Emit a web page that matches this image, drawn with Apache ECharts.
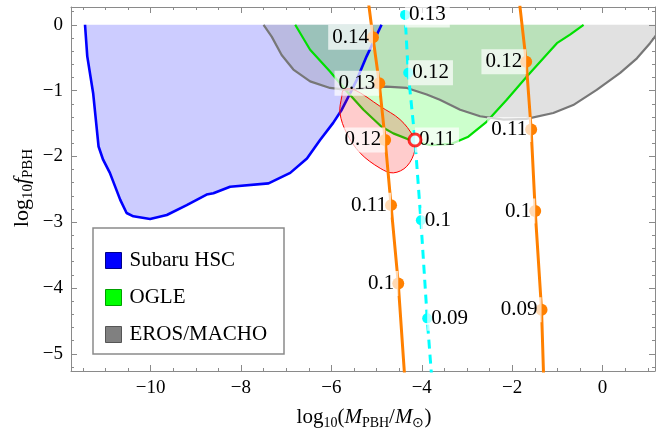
<!DOCTYPE html>
<html><head><meta charset="utf-8">
<script src="https://cdn.jsdelivr.net/npm/echarts@6/dist/echarts.min.js"></script>
<style>html,body{margin:0;padding:0;background:#fff}#c{width:657px;height:432px}</style>
</head><body><div id="c"></div>
<script>
// ---------- data ----------
const xRange = [-11.76, 1.16];
const yRange = [-5.26, 0.27];
const xMajorTicks = [-10, -8, -6, -4, -2, 0];
const yMajorTicks = [-5, -4, -3, -2, -1, 0];
const legendNames = ['Subaru HSC', 'OGLE', 'EROS/MACHO'];

// region boundaries [log10 M, log10 f]
const subaruBoundary = [[-11.45,0],[-11.40,-0.48],[-11.27,-1.04],[-11.15,-1.85],[-11.05,-2.05],[-10.90,-2.25],[-10.67,-2.66],[-10.53,-2.86],[-10.38,-2.91],[-10.01,-2.95],[-9.64,-2.89],[-9.20,-2.74],[-8.76,-2.58],[-8.61,-2.56],[-8.24,-2.46],[-7.39,-2.41],[-6.91,-2.25],[-6.54,-2.03],[-6.25,-1.75],[-5.96,-1.49],[-5.77,-1.29],[-5.62,-1.09],[-5.44,-0.84],[-5.22,-0.48],[-4.89,0]];
const ogleBoundary = [[-6.80,0],[-6.47,-0.38],[-6.03,-0.71],[-5.66,-1.01],[-5.29,-1.29],[-4.89,-1.55],[-4.63,-1.65],[-4.19,-1.77],[-3.80,-1.83],[-3.35,-1.81],[-2.97,-1.70],[-2.56,-1.47],[-2.12,-1.14],[-1.68,-0.79],[-1.31,-0.51],[-1.01,-0.28],[-0.72,-0.15],[-0.42,0]];
const erosBoundary = [[-7.50,0],[-7.32,-0.18],[-7.10,-0.46],[-6.84,-0.68],[-6.47,-0.86],[-6.03,-0.96],[-5.66,-0.99],[-5.22,-0.96],[-4.78,-0.94],[-4.33,-0.96],[-3.89,-1.06],[-3.60,-1.14],[-3.15,-1.29],[-2.71,-1.39],[-2.19,-1.44],[-1.68,-1.43],[-1.09,-1.34],[-0.65,-1.22],[-0.13,-0.99],[0.39,-0.73],[0.76,-0.51],[1.05,-0.28],[1.16,-0.18],[1.35,0]];
const bestFitRegion = [[-5.73,-0.99],[-5.51,-0.98],[-4.92,-1.24],[-4.48,-1.44],[-4.19,-1.70],[-4.15,-1.90],[-4.33,-2.15],[-4.63,-2.25],[-4.92,-2.18],[-5.36,-1.95],[-5.66,-1.65],[-5.81,-1.34],[-5.77,-1.09]];
const bestFitPoint = [-4.15, -1.75];

// parametric curves [log10 M, log10 f, parameter label]
const orangeLeft  = [[-5.19,0.40,0.15],[-5.08,-0.19,0.14],[-4.94,-0.89,0.13],[-4.81,-1.75,0.12],[-4.68,-2.74,0.11],[-4.52,-3.93,0.1],[-4.38,-5.33,0.09]];
const orangeRight = [[-1.83,0.29,0.13],[-1.69,-0.56,0.12],[-1.58,-1.59,0.11],[-1.49,-2.83,0.1],[-1.35,-4.33,0.09],[-1.27,-6.10,0.08]];
const cyanLine    = [[-4.41,0.90,0.14],[-4.37,0.15,0.13],[-4.30,-0.73,0.12],[-4.15,-1.75,0.11],[-4.02,-2.97,0.1],[-3.88,-4.46,0.09],[-3.68,-6.26,0.08]];

// ---------- styling ----------
const SERIF = 'Liberation Serif, Times New Roman, serif';
const FRAME = '#8a8a8a';
const xMinorTicks = [], yMinorTicks = [];
for (let v = -11.5; v <= 1.0; v += 0.5) if (Math.abs(v % 2) > 1e-6) xMinorTicks.push(v);
for (let i = -26; i <= 1; i++) { const v = i / 5; if (i % 5 !== 0) yMinorTicks.push(v); }
const fmt = v => v < 0 ? '\u2212' + (-v) : String(v);

function xAxisDef(pos, ticks, len, labels, line) {
  return { type:'value', min:xRange[0], max:xRange[1], position:pos,
    axisLine:{show:line, onZero:false, lineStyle:{color:FRAME, width:1}},
    axisTick:{show:true, inside:true, length:len, customValues:ticks, lineStyle:{color:FRAME}},
    axisLabel:{show:labels, customValues:ticks, formatter:fmt, margin:8, fontFamily:SERIF, fontSize:19, color:'#000'},
    splitLine:{show:false} };
}
function yAxisDef(pos, ticks, len, labels, line) {
  return { type:'value', min:yRange[0], max:yRange[1], position:pos,
    axisLine:{show:line, onZero:false, lineStyle:{color:FRAME, width:1}},
    axisTick:{show:true, inside:true, length:len, customValues:ticks, lineStyle:{color:FRAME}},
    axisLabel:{show:labels, customValues:ticks, formatter:fmt, margin:8, fontFamily:SERIF, fontSize:19, color:'#000'},
    splitLine:{show:false} };
}

function regionFill(name, pts, color) {
  return { type:'custom', name, clip:true, z:1, silent:true,
    data:[[pts[0][0], pts[0][1]]],
    renderItem(params, api) {
      const poly = pts.map(p => api.coord(p));
      poly.push(api.coord([pts[pts.length-1][0], 0]));
      poly.push(api.coord([pts[0][0], 0]));
      return { type:'polygon', shape:{points:poly}, style:{fill:color, stroke:null} };
    } };
}
const boundaries = [
  [subaruBoundary, '#0000ff', 2.6],
  [ogleBoundary, '#00e000', 2.2],
  [erosBoundary, '#777777', 2.2]
];

function curveSeries(pts, color, dashed, size, side) {
  return { type:'line', z: dashed ? 6 : 5, clip:true, smooth:false,
    data: pts.map(p => ({ value:[p[0], p[1]], p:p[2] })),
    symbol:'circle', symbolSize:size, showSymbol:true,
    itemStyle:{color}, lineStyle:{color, width:3, type: dashed ? [9,6] : 'solid'},
    label:{ show:true, position:side, distance:-size/2,
      formatter: q => String(q.data.p),
      fontFamily:SERIF, fontSize:21, color:'#000', lineHeight:23,
      backgroundColor:'rgba(255,255,255,0.7)', padding:[1,4,1,4] },
    emphasis:{disabled:true}, silent:true };
}

const chart = echarts.init(document.getElementById('c'), null, {renderer:'canvas'});
const sub = {fontFamily:SERIF, fontSize:14, lineHeight:10, verticalAlign:'bottom', fill:'#000'};
const nor = {fontFamily:SERIF, fontSize:21, lineHeight:26, fill:'#000'};
const ita = {fontFamily:SERIF, fontSize:21, lineHeight:26, fontStyle:'italic', fill:'#000'};
const subY = {fontFamily:SERIF, fontSize:15, lineHeight:10, verticalAlign:'bottom', fill:'#000'};
const norY = {fontFamily:SERIF, fontSize:22, lineHeight:27, fill:'#000'};
const itaY = {fontFamily:SERIF, fontSize:22, lineHeight:27, fontStyle:'italic', fill:'#000'};
chart.setOption({
  animation:false,
  backgroundColor:'#fff',
  grid:{left:71, right:2, top:7, bottom:61, containLabel:false},
  xAxis:[
    xAxisDef('bottom', xMajorTicks, 6, true, true),
    xAxisDef('bottom', xMinorTicks, 3, false, false),
    xAxisDef('top', xMajorTicks, 6, false, true),
    xAxisDef('top', xMinorTicks, 3, false, false)
  ],
  yAxis:[
    yAxisDef('left', yMajorTicks, 6, true, true),
    yAxisDef('left', yMinorTicks, 3, false, false),
    yAxisDef('right', yMajorTicks, 6, false, true),
    yAxisDef('right', yMinorTicks, 3, false, false)
  ],
  legend:{ left:105, top:250, orient:'vertical', padding:0, itemWidth:16, itemHeight:16, itemGap:16,
    selectedMode:false, z:30,
    textStyle:{fontFamily:SERIF, fontSize:21, color:'#000', padding:[5,0,0,3]},
    data:[
      {name:legendNames[0], icon:'rect', itemStyle:{color:'#0000ff', borderColor:'#00008a', borderWidth:1}},
      {name:legendNames[1], icon:'rect', itemStyle:{color:'#00ff00', borderColor:'#00a000', borderWidth:1}},
      {name:legendNames[2], icon:'rect', itemStyle:{color:'#808080', borderColor:'#555555', borderWidth:1}}
    ]},
  graphic:[
    {type:'rect', z:25, shape:{x:93, y:228, width:191, height:126}, style:{fill:'#fff', stroke:'#8a8a8a', lineWidth:1.5}},
    {type:'text', z:25, x:364, y:417, style:{
      text:'{n|log}{s|10}{n|(}{i|M}{s|PBH}{n|/}{i|M}{s|\u2299}{n|)}',
      rich:{n:nor, s:sub, i:ita}, align:'center', verticalAlign:'middle'}},
    {type:'text', z:25, x:22, y:188, rotation:Math.PI/2, style:{
      text:'{n|log}{s|10}{i|f}{s|PBH}',
      rich:{n:norY, s:subY, i:itaY}, align:'center', verticalAlign:'middle'}}
  ],
  series:[
    regionFill(legendNames[0], subaruBoundary, 'rgba(0,0,255,0.2)'),
    regionFill(legendNames[1], ogleBoundary, 'rgba(0,255,0,0.2)'),
    regionFill(legendNames[2], erosBoundary, 'rgba(128,128,128,0.24)'),
    { type:'custom', z:2, clip:true, silent:true,
      data:[[bestFitPoint[0], bestFitPoint[1]]],
      renderItem(params, api) {
        return { type:'group', children: boundaries.map(b => ({
          type:'polyline', shape:{points:b[0].map(p => api.coord(p))},
          style:{fill:null, stroke:b[1], lineWidth:b[2], lineJoin:'round'} })) };
      } },
    { type:'custom', z:3, clip:true, silent:true,
      data:[[bestFitPoint[0], bestFitPoint[1]]],
      renderItem(params, api) {
        return { type:'polygon', shape:{points:bestFitRegion.map(p => api.coord(p)), smooth:0.35},
          style:{fill:'rgba(255,0,0,0.2)', stroke:'#ff0000', lineWidth:1} };
      } },
    curveSeries(orangeLeft, '#ff8000', false, 12, 'left'),
    curveSeries(orangeRight, '#ff8000', false, 12, 'left'),
    curveSeries(cyanLine, '#00ffff', true, 10, 'right'),
    { type:'scatter', z:10, silent:true, data:[bestFitPoint], symbol:'circle', symbolSize:12,
      itemStyle:{color:'#ffffff', borderColor:'#ff0000', borderWidth:3} }
  ]
});
</script></body></html>
